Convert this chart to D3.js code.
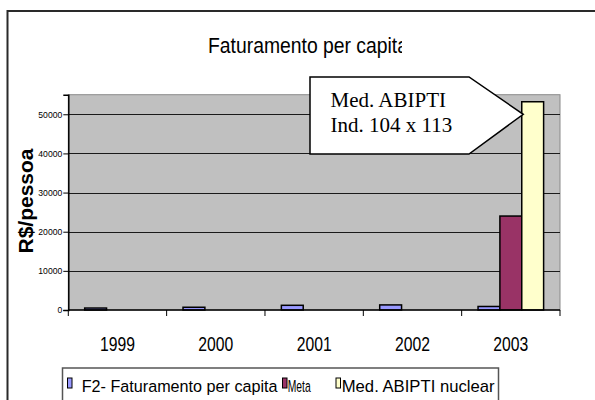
<!DOCTYPE html>
<html>
<head>
<meta charset="utf-8">
<script src="https://cdn.jsdelivr.net/npm/d3@7.9.0/dist/d3.min.js"></script>
<style>
  html, body { margin: 0; padding: 0; background: #fff; }
  svg { display: block; font-family: "Liberation Sans", Arial, sans-serif; }
</style>
</head>
<body>
<svg id="chart" width="595" height="400"></svg>
<script>
const years = ["1999", "2000", "2001", "2002", "2003"];
const seriesNames = ["F2- Faturamento per capita", "Meta", "Med. ABIPTI nuclear"];
const faturamento = [500, 700, 1200, 1300, 900];
const meta = [null, null, null, null, 24000];
const abipti = [null, null, null, null, 53200];
const yTicks = [0, 10000, 20000, 30000, 40000, 50000];
const seriesColors = ["#9999FF", "#993366", "#FFFFCC"];

const sans = '"Liberation Sans", Arial, sans-serif';
const serif = '"Liberation Serif", "Times New Roman", serif';

const svg = d3.select("#chart");

// outer chart frame (runs off the right and bottom edges)
svg.append("rect")
  .attr("x", 7.5).attr("y", 11).attr("width", 620).attr("height", 420)
  .attr("fill", "#fff").attr("stroke", "#2a2a2a").attr("stroke-width", 2);

// title, clipped like the original
svg.append("clipPath").attr("id", "titleClip")
  .append("rect").attr("x", 0).attr("y", 0).attr("width", 402).attr("height", 80);
svg.append("text")
  .attr("clip-path", "url(#titleClip)")
  .attr("x", 208).attr("y", 53)
  .style("font-family", sans)
  .attr("font-size", 22)
  .attr("textLength", 200).attr("lengthAdjust", "spacingAndGlyphs")
  .text("Faturamento per capita");

const plot = { left: 68.3, right: 560, top: 94.7, bottom: 310 };

const x = d3.scaleBand().domain(years).range([plot.left, plot.right]);
const xs = d3.scaleBand().domain(d3.range(3)).range([0, x.bandwidth()]).paddingOuter(0.75);
const y = d3.scaleLinear().domain([0, 55000]).range([plot.bottom, plot.top]);

// plot background
svg.append("rect")
  .attr("x", plot.left).attr("y", plot.top)
  .attr("width", plot.right - plot.left).attr("height", plot.bottom - plot.top)
  .attr("fill", "#C0C0C0").attr("stroke", "#8a8a8a").attr("stroke-width", 1);

// gridlines
svg.append("g").selectAll("line")
  .data(yTicks.filter(d => d > 0))
  .join("line")
  .attr("x1", plot.left).attr("x2", plot.right)
  .attr("y1", d => Math.round(y(d)) + 0.5).attr("y2", d => Math.round(y(d)) + 0.5)
  .attr("stroke", "#1a1a1a").attr("stroke-width", 1);

// bars
const seriesValues = [faturamento, meta, abipti];
const bars = [];
seriesValues.forEach((vals, s) => {
  vals.forEach((v, i) => {
    if (v != null) bars.push({ s, year: years[i], value: v });
  });
});
svg.append("g").selectAll("rect")
  .data(bars)
  .join("rect")
  .attr("x", d => x(d.year) + xs(d.s))
  .attr("y", d => y(d.value))
  .attr("width", xs.bandwidth())
  .attr("height", d => y(0) - y(d.value))
  .attr("fill", d => seriesColors[d.s])
  .attr("stroke", "#000").attr("stroke-width", 1.5);

// y axis
const yAxis = svg.append("g")
  .attr("transform", `translate(${plot.left},0)`)
  .call(d3.axisLeft(y).tickValues(yTicks).tickSize(5).tickPadding(1).tickFormat(d3.format("d")));
yAxis.select(".domain").attr("stroke", "#000").attr("stroke-width", 1.5);
yAxis.selectAll(".tick line").attr("stroke", "#000");
yAxis.selectAll(".tick text")
  .style("font-family", sans)
  .attr("font-size", 9)
  .attr("fill", "#000")
  .attr("textLength", d => String(d).length * 4.8)
  .attr("lengthAdjust", "spacingAndGlyphs");

// x axis
const xAxis = svg.append("g")
  .attr("transform", `translate(0,${plot.bottom})`)
  .call(d3.axisBottom(x).tickSize(0).tickPadding(27));
xAxis.select(".domain").remove();
xAxis.selectAll(".tick text")
  .style("font-family", sans)
  .attr("font-size", 20)
  .attr("fill", "#000")
  .attr("textLength", 35)
  .attr("lengthAdjust", "spacingAndGlyphs");
svg.append("line")
  .attr("x1", plot.left).attr("x2", plot.right)
  .attr("y1", plot.bottom).attr("y2", plot.bottom)
  .attr("stroke", "#000").attr("stroke-width", 1.5);
svg.append("g").selectAll("line")
  .data(years.map(d => x(d)).concat([plot.right]))
  .join("line")
  .attr("x1", d => d).attr("x2", d => d)
  .attr("y1", plot.bottom).attr("y2", plot.bottom + 6)
  .attr("stroke", "#000").attr("stroke-width", 1);

// y axis title
svg.append("text")
  .attr("transform", "translate(33,201) rotate(-90)")
  .attr("text-anchor", "middle")
  .style("font-family", sans)
  .attr("font-size", 20)
  .attr("font-weight", "bold")
  .attr("textLength", 105).attr("lengthAdjust", "spacingAndGlyphs")
  .text("R$/pessoa");

// callout
const tipX = x("2003") + xs(2) + 1.5;
const tipY = y(50000);
const callout = [[310, 77], [469, 77], [tipX, tipY], [469, 154], [310, 154]];
svg.append("path")
  .attr("d", d3.line()(callout) + "Z")
  .attr("fill", "#fff").attr("stroke", "#000").attr("stroke-width", 1.5);
svg.append("text")
  .attr("x", 330.5).attr("y", 106.5)
  .style("font-family", serif)
  .attr("font-size", 21)
  .text("Med. ABIPTI");
svg.append("text")
  .attr("x", 330.5).attr("y", 131.5)
  .style("font-family", serif)
  .attr("font-size", 21)
  .text("Ind. 104 x 113");

// legend
svg.append("rect")
  .attr("x", 62.5).attr("y", 368).attr("width", 436).attr("height", 60)
  .attr("fill", "#fff").attr("stroke", "#555").attr("stroke-width", 1.5);
const legendItems = [
  { sw: 67.5, tx: 81.7, len: 196 },
  { sw: 282.5, tx: 287.7, len: 23 },
  { sw: 336, tx: 341.7, len: 153 }
];
const leg = svg.append("g").selectAll("g")
  .data(seriesNames)
  .join("g");
leg.append("rect")
  .attr("x", (d, i) => legendItems[i].sw)
  .attr("y", 378)
  .attr("width", 4.5).attr("height", 10)
  .attr("fill", (d, i) => seriesColors[i])
  .attr("stroke", "#000").attr("stroke-width", 1);
leg.append("text")
  .style("font-family", sans)
  .attr("font-size", 17)
  .attr("fill", "#000")
  .text(d => d)
  .each(function (d, i) {
    // squeeze horizontally to the width seen in the original legend
    const w = this.getComputedTextLength();
    const k = legendItems[i].len / w;
    d3.select(this).attr("transform", `translate(${legendItems[i].tx},391.5) scale(${k},1)`);
  });
</script>
</body>
</html>
